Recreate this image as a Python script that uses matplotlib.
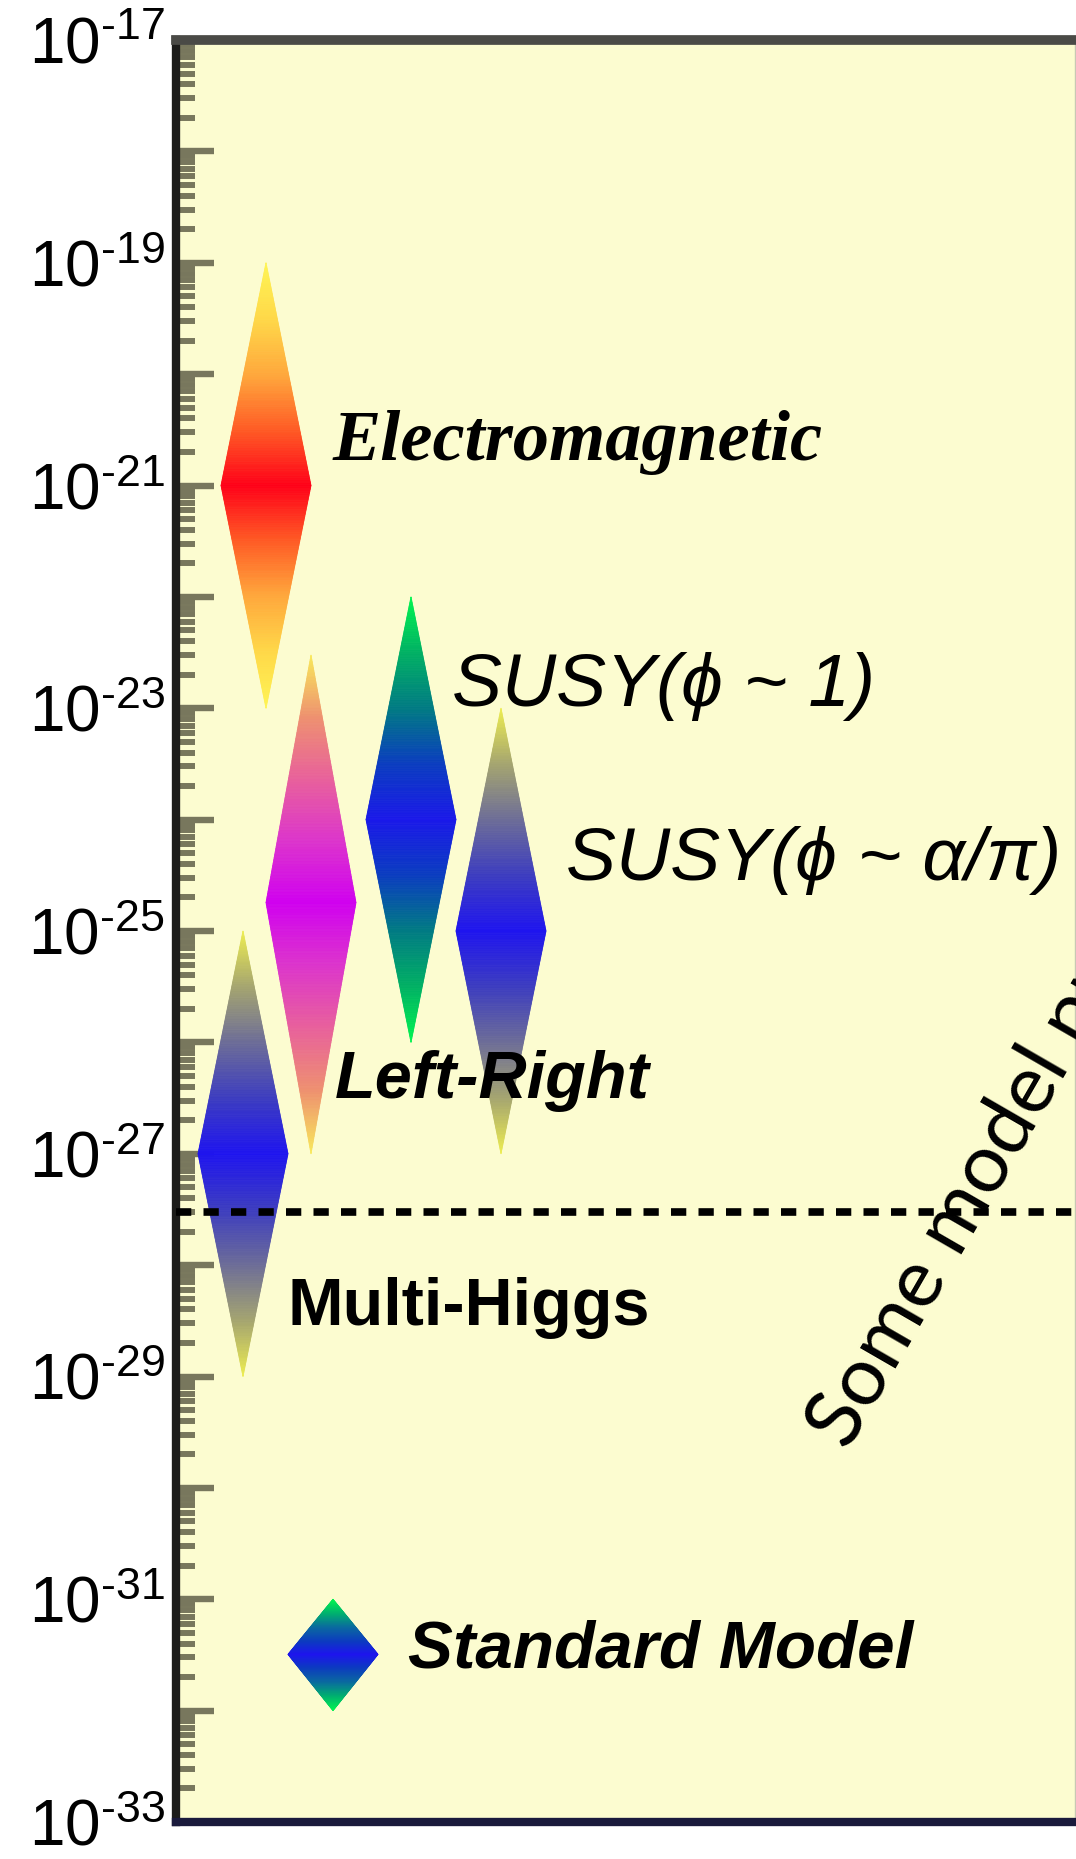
import numpy as np
import matplotlib.pyplot as plt
import matplotlib.ticker as mticker
from matplotlib.collections import PolyCollection
from matplotlib.colors import LinearSegmentedColormap

plt.rcParams['font.family'] = ['Liberation Sans', 'DejaVu Sans']
plt.rcParams['mathtext.fontset'] = 'custom'
plt.rcParams['mathtext.rm'] = 'Liberation Sans'

# electron EDM predictions (e cm): upper edge, centre, lower edge
models = ['Electromagnetic', 'Left-Right', 'SUSY(ϕ ~ 1)', 'SUSY(ϕ ~ α/π)', 'Multi-Higgs', 'Standard Model']
edm_high = [1e-19, 3e-23, 1e-22, 1e-23, 1e-25, 1e-31]
edm_mid = [1e-21, 1.8e-25, 1e-24, 1e-25, 1e-27, 3.2e-32]
edm_low = [1e-23, 1e-27, 1e-26, 1e-27, 1e-29, 1e-32]
exp_limit = 3e-28

# colour from centre (0) to tips (1)
grad = {
    'Electromagnetic': ['#ff0018', '#ff5a24', '#ffa83c', '#ffd848', '#fff454'],
    'Left-Right': ['#d000f0', '#dc34cc', '#e8609c', '#ee9070', '#f8e85a'],
    'SUSY(ϕ ~ 1)': ['#1a18ea', '#0a3cc0', '#007a84', '#00b064', '#00f450'],
    'SUSY(ϕ ~ α/π)': ['#1e14f0', '#3c3cc0', '#6c6c98', '#a4a470', '#ecec50'],
    'Multi-Higgs': ['#1e14f0', '#3c3cc0', '#6c6c98', '#a4a470', '#ecec50'],
    'Standard Model': ['#1e14f0', '#0c3cc0', '#0a6aa0', '#00b070', '#00f450'],
}
x_centre = [90, 135, 235, 325, 67, 157]
half_w = 45


def diamond(ax, xc, lo, mid, hi, cmap, n=160):
    polys, cols = [], []
    for end in (hi, lo):
        la, lb = np.log10(mid), np.log10(end)
        t = np.linspace(0, 1, n + 1)
        ys = 10 ** (la + (lb - la) * t)
        ws = half_w * (1 - t)
        for k in range(n):
            polys.append([(xc - ws[k], ys[k]), (xc + ws[k], ys[k]),
                          (xc + ws[k + 1], ys[k + 1]), (xc - ws[k + 1], ys[k + 1])])
            cols.append(cmap(0.5 * (t[k] + t[k + 1])))
    ax.add_collection(PolyCollection(polys, facecolors=cols, edgecolors=cols,
                                     linewidths=0.6, zorder=2))


fig = plt.figure(figsize=(10.76, 18.59), dpi=100)
ax = fig.add_axes([176 / 1076, 37 / 1859, 899 / 1076, 1782 / 1859])
ax.set_facecolor('#fcfcd0')
ax.set_yscale('log')
ax.set_ylim(1e-33, 1e-17)
ax.set_xlim(0, 899)

for i, m in enumerate(models):
    cmap = LinearSegmentedColormap.from_list(m, grad[m])
    diamond(ax, x_centre[i], edm_low[i], edm_mid[i], edm_high[i], cmap)

ax.axhline(exp_limit, color='black', lw=5.5, dashes=(2, 1.6), zorder=4)

# labels
ax.text(157, 10 ** -20.77, 'Electromagnetic', family='Liberation Serif', weight='bold',
        style='italic', fontsize=52, va='baseline', zorder=5)
ax.text(276, 10 ** -22.98, 'SUSY(ϕ ~ 1)', style='italic', fontsize=54, va='baseline', zorder=5)
ax.text(390, 10 ** -24.54, 'SUSY(ϕ ~ α/π)', style='italic', fontsize=54, va='baseline', zorder=5)
ax.text(159, 10 ** -26.50, 'Left-Right', weight='bold', style='italic', fontsize=48,
        va='baseline', zorder=5)
ax.text(112, 10 ** -28.54, 'Multi-Higgs', weight='bold', fontsize=48, va='baseline', zorder=5)
ax.text(232, 10 ** -31.61, 'Standard Model', weight='bold', style='italic', fontsize=48.5,
        va='baseline', zorder=5)
ax.text(672, 10 ** -29.68, 'Some model predictions', family=['Lato', 'DejaVu Sans'],
        fontsize=59, rotation=60, rotation_mode='anchor', va='baseline', ha='left', zorder=5)

# axis styling
ax.yaxis.set_major_locator(mticker.LogLocator(base=10, numticks=40))
ax.yaxis.set_minor_locator(mticker.LogLocator(base=10, subs=np.arange(2, 10), numticks=40))


def fmt(v, pos):
    e = int(round(np.log10(v)))
    return r'$\mathregular{10^{\text{-}%d}}$' % abs(e) if e % 2 else ''


ax.yaxis.set_major_formatter(mticker.FuncFormatter(fmt))
ax.yaxis.set_minor_formatter(mticker.NullFormatter())
ax.tick_params(axis='y', which='major', direction='in', length=27, width=4.6,
               color='#78775d', labelsize=46, pad=8)
ax.tick_params(axis='y', which='minor', direction='in', length=14, width=4.3, color='#78775d')
ax.set_xticks([])

ax.spines['left'].set_linewidth(6)
ax.spines['left'].set_color('#1c1c1a')
ax.spines['top'].set_linewidth(7)
ax.spines['top'].set_color('#4a4a46')
ax.spines['bottom'].set_linewidth(6)
ax.spines['bottom'].set_color('#1a1a3c')
ax.spines['right'].set_linewidth(1)
ax.spines['right'].set_color('#c8c8b4')

plt.savefig('out.png', dpi=100)
